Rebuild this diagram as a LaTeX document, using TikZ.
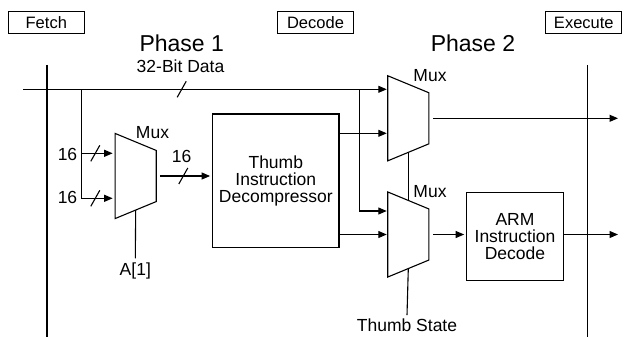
\documentclass[tikz,border=0pt]{standalone}
\usepackage{fontspec}
\setmainfont{Liberation Sans}
\usepackage{tikz}
\usetikzlibrary{arrows.meta,positioning,calc}
\newcommand{\lblfont}{\fontsize{17.5}{17}\selectfont}
\newcommand{\busmark}[1]{\draw ([shift={(-4.5pt,-8pt)}]#1) -- ++(9pt,16pt);}
\tikzset{
  >={Triangle[length=8.5pt,width=7pt]},
  mux/.style={minimum width=40pt, minimum height=84pt, inner sep=0pt},
  blk/.style={draw, align=center, inner sep=0pt, font=\lblfont},
  stg/.style={draw, minimum width=76pt, minimum height=22.3pt, inner sep=0pt, font=\fontsize{16.5}{18}\selectfont},
  lbl/.style={anchor=base, font=\lblfont},
  phase/.style={anchor=base, inner sep=0pt, font=\fontsize{23}{26}\selectfont},
}

\begin{document}
\begin{tikzpicture}[x=1pt, y=-1pt, line width=1.1pt]
  \useasboundingbox (0,0) rectangle (626,337);

  \node[stg] (fetch) at (46.3,22.8) {Fetch};
  \node[stg] (decode) at (315.5,22.8) {Decode};
  \node[stg] (execute) at (583.8,22.8) {Execute};
  \node[phase] (ph1) at (181.7,52) {Phase 1};
  \node[phase] (ph2) at (473,52) {Phase 2};

  \node[mux] (mxa) at (135.7,176) {};
  \node[mux] (mxb) at (408.3,118.3) {};
  \node[mux] (mxc) at (408.3,234.5) {};
  \foreach \m in {mxa,mxb,mxc}
    \draw (\m.north west) -- ([yshift=-17pt]\m.north east) -- ([yshift=17pt]\m.south east) -- (\m.south west) -- cycle;

  \node[blk, minimum width=126.3pt, minimum height=133.7pt] (dec) at (275.8,180.8) {Thumb\\Instruction\\Decompressor};
  \node[blk, minimum width=96.6pt, minimum height=88.4pt] (arm) at (515,236.5) {ARM\\Instruction\\Decode};

  \node[lbl, inner sep=0pt] (bits) at (180.5,72) {32-Bit Data};
  \node[lbl, inner sep=0pt] (mxalbl) at (152.5,138.5) {Mux};
  \node[lbl, inner sep=0pt] (mxblbl) at (430,81.7) {Mux};
  \node[lbl, inner sep=0pt] (mxclbl) at (430,197.7) {Mux};
  \node[lbl, inner sep=0pt] (wa) at (67.5,160) {16};
  \node[lbl, inner sep=0pt] (wb) at (67.5,203) {16};
  \node[lbl, inner sep=0pt] (wc) at (181.7,162.7) {16};
  \node[lbl] (sela) at (135.3,275) {A[1]};
  \node[lbl] (selts) at (407,331.7) {Thumb State};

  % stage boundaries
  \coordinate (fdtop) at (47,65);
  \coordinate (fdbot) at (47,337);
  \coordinate (detop) at (587.3,65);
  \coordinate (debot) at (587.3,337);
  \draw (fdtop) -- (fdbot);
  \draw (detop) -- (debot);

  % data bus
  \coordinate (busin) at (23,89.3);
  \coordinate (bra) at (81.7,89.3);
  \coordinate (brb) at (359.3,89.3);
  \coordinate (rgt) at (618,0);
  \draw[->, shorten >=1pt] (busin) -- (busin -| mxb.west);
  \draw[->, shorten >=2.5pt] (bra) |- ([yshift=22.7pt]mxa.west);
  \draw[->, shorten >=2.5pt] (bra) |- ([yshift=-22.3pt]mxa.west);
  \draw[->, shorten >=1pt] (brb) |- ([yshift=23.5pt]mxc.west);
  \draw[->, shorten >=2pt] ([xshift=3.5pt]mxa.east) -- (mxa.east -| dec.west);

  \coordinate (dout) at ([yshift=47.5pt]dec.east);
  \draw[->, shorten >=1pt] (dout) -- (dout -| mxb.west);
  \draw[->, shorten >=1pt] (dec.east |- mxc.west) -- (mxc.west);
  \draw[->] ([xshift=4.4pt]mxb.east) -- (mxb.east -| rgt);
  \draw[->, shorten >=2pt] ([xshift=4.4pt]mxc.east) -- (arm.west |- mxc.east);
  \draw[->] (arm.east |- mxc.east) -- (mxc.east -| rgt);

  % selects
  \draw ([yshift=8.5pt]mxa.south) -- (sela.north);
  \draw ([yshift=8.5pt]mxb.south) -- ([yshift=-8.5pt]mxc.north);
  \draw ([yshift=8.5pt]mxc.south) -- (selts.north);

  % bus widths
  \coordinate (sa) at (181.7,89.3);
  \coordinate (sb) at (95.3,153.3);
  \coordinate (sc) at (95.3,198.3);
  \coordinate (sd) at (183.3,176);
  \foreach \s in {sa,sb,sc,sd}
    {\busmark{\s}}
\end{tikzpicture}
\end{document}
